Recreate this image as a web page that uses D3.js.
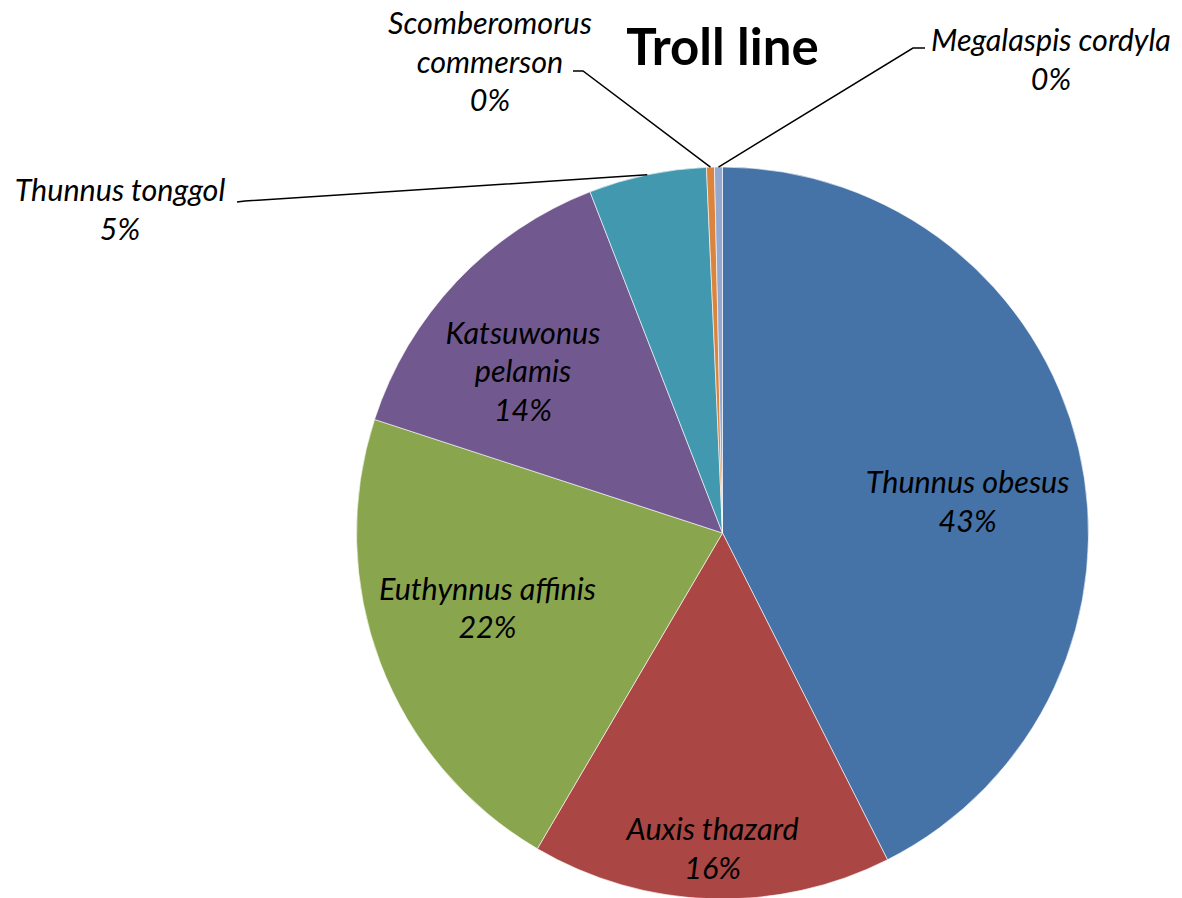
<!DOCTYPE html>
<html>
<head>
<meta charset="utf-8">
<script src="https://cdn.jsdelivr.net/npm/d3@7"></script>
<style>
  html, body { margin: 0; padding: 0; background: #fff; }
  svg { display: block; }
</style>
</head>
<body>
<svg id="chart" width="1182" height="898"></svg>
<script>
// ---- data ----
const title = "Troll line";
const categories = ["Thunnus obesus", "Auxis thazard", "Euthynnus affinis", "Katsuwonus pelamis",
                    "Thunnus tonggol", "Scomberomorus commerson", "Megalaspis cordyla"];
const values = [42.6, 15.9, 21.6, 14.1, 5.2, 0.35, 0.35];
const colors = ["#4572A7", "#AA4643", "#89A54E", "#71588F", "#4198AF", "#DB843D", "#93A9CF"];

// ---- layout ----
const W = 1182, H = 898;
const cx = 722.5, cy = 533, R = 366;
const fontFam = "Lato, 'Open Sans', sans-serif";
const labelSize = 30.5, lineH = 38.5;

const svg = d3.select("#chart");
const total = d3.sum(values);
const data = categories.map((c, i) => ({ name: c, value: values[i], color: colors[i], i }));

const pie = d3.pie().sort(null).value(d => d.value).startAngle(0).endAngle(2 * Math.PI);
const arcs = pie(data);
const arc = d3.arc().innerRadius(0).outerRadius(R);

const g = svg.append("g").attr("transform", `translate(${cx},${cy})`);
g.selectAll("path.slice")
  .data(arcs)
  .enter().append("path")
  .attr("class", "slice")
  .attr("d", arc)
  .attr("fill", d => d.data.color)
  .attr("stroke", "#fff")
  .attr("stroke-width", 0.6);

// title
svg.append("text")
  .attr("x", cx).attr("y", 65)
  .attr("text-anchor", "middle")
  .attr("font-family", fontFam)
  .attr("font-weight", "bold")
  .attr("font-size", 51)
  .attr("fill", "#000")
  .text(title);

const pct = v => Math.round(v / total * 100) + "%";
const ptAt = (angle, r) => [Math.sin(angle) * r, -Math.cos(angle) * r];

// inside labels: radius fraction per slice (best-fit placement)
const insideFrac = { 0: 0.675, 1: 0.865, 2: 0.675, 3: 0.70 };
const insideLines = {
  0: ["Thunnus obesus"],
  1: ["Auxis thazard"],
  2: ["Euthynnus affinis"],
  3: ["Katsuwonus", "pelamis"]
};
const insideAngleShift = { 0: 0.11, 1: 0, 2: 0.05, 3: -0.08 };

arcs.forEach(a => {
  const i = a.data.i;
  if (!(i in insideFrac)) return;
  const mid = (a.startAngle + a.endAngle) / 2 + insideAngleShift[i];
  const [px, py] = ptAt(mid, R * insideFrac[i]);
  const lines = insideLines[i].concat([pct(a.data.value)]);
  const t = g.append("text")
    .attr("font-family", fontFam)
    .attr("font-style", "italic")
    .attr("font-size", labelSize)
    .attr("text-anchor", "middle")
    .attr("fill", "#000");
  const y0 = py - (lines.length - 1) * lineH / 2 + 10;
  lines.forEach((ln, k) => {
    t.append("tspan").attr("x", px).attr("y", y0 + k * lineH).text(ln);
  });
});

// outside labels with leader lines (absolute text anchors)
const outside = {
  4: { lines: ["Thunnus tonggol"], tx: 120, ty: 201, elbow: [[245, 201], [237, 202]] },
  5: { lines: ["Scomberomorus", "commerson"], tx: 490, ty: 34, elbow: [[583, 71], [573, 71]] },
  6: { lines: ["Megalaspis cordyla"], tx: 1051, ty: 51, elbow: [[913, 48], [925, 48]] }
};

arcs.forEach(a => {
  const i = a.data.i;
  const o = outside[i];
  if (!o) return;
  const mid = (a.startAngle + a.endAngle) / 2;
  const [px, py] = ptAt(mid, R);
  const pts = [[cx + px, cy + py]].concat(o.elbow);
  svg.append("path")
    .attr("d", d3.line()(pts))
    .attr("fill", "none")
    .attr("stroke", "#000")
    .attr("stroke-width", 1.5);
  const lines = o.lines.concat([pct(a.data.value)]);
  const t = svg.append("text")
    .attr("font-family", fontFam)
    .attr("font-style", "italic")
    .attr("font-size", labelSize)
    .attr("text-anchor", "middle")
    .attr("fill", "#000");
  lines.forEach((ln, k) => {
    t.append("tspan").attr("x", o.tx).attr("y", o.ty + k * lineH).text(ln);
  });
});
</script>
</body>
</html>
